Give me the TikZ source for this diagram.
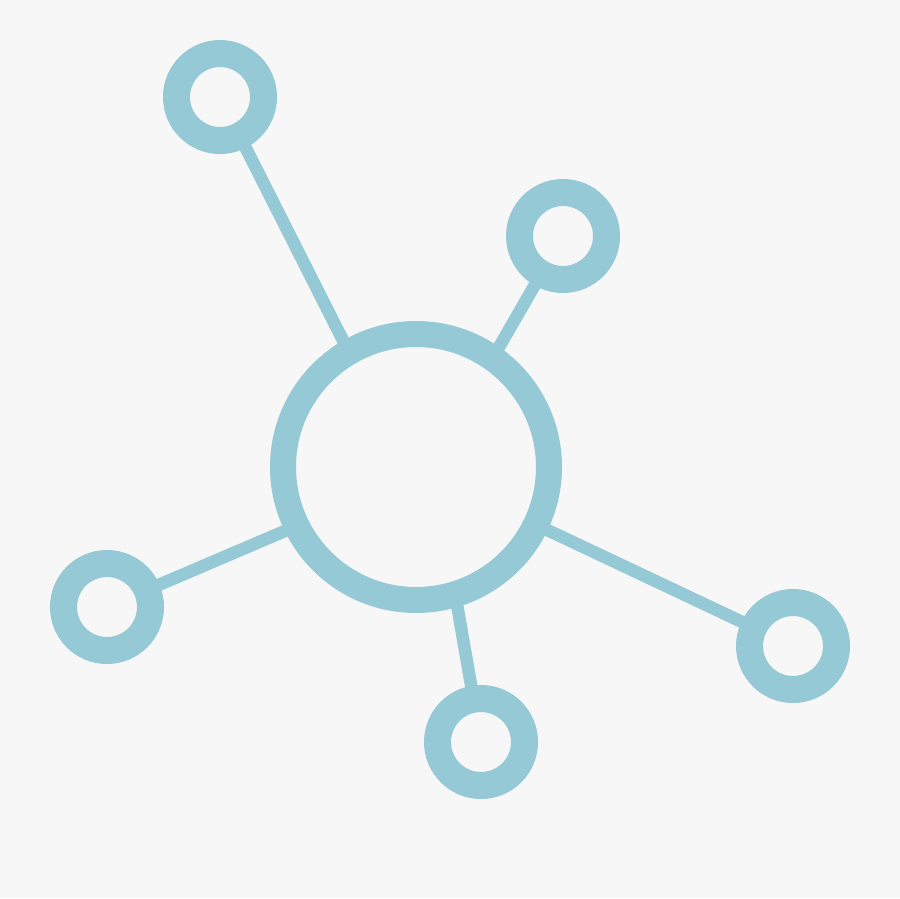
\documentclass[tikz,border=0pt]{standalone}
\usetikzlibrary{backgrounds}
\definecolor{bg}{RGB}{247,247,247}
\definecolor{hub}{RGB}{148,201,213}
\begin{document}
\begin{tikzpicture}[x=1pt,y=-1pt,
  ring/.style={circle,draw=hub,fill=bg,inner sep=0pt,line width=27pt,minimum size=87pt},
  bigring/.style={circle,draw=hub,fill=bg,inner sep=0pt,line width=26pt,minimum size=266pt},
  link/.style={draw=hub,line width=12.5pt}]
\useasboundingbox (0,0) rectangle (900,898);
\node[bigring] (c) at (416,467) {};
\node[ring] (tl) at (220,97) {};
\node[ring] (tr) at (563,236) {};
\node[ring] (l) at (107,607) {};
\node[ring] (b) at (481,742) {};
\node[ring] (r) at (793,646) {};
\coordinate (ctl) at (407,467);
\coordinate (ctr) at (430,467);
\coordinate (cl) at (416,475);
\coordinate (cb) at (433,467);
\coordinate (cr) at (416,468);
\begin{pgfonlayer}{background}
\fill[bg] (0,0) rectangle (900,898);
\draw[link] (ctl) -- (tl.center);
\draw[link] (ctr) -- (tr.center);
\draw[link] (cl) -- (l.center);
\draw[link] (cb) -- (b.center);
\draw[link] (cr) -- (r.center);
\end{pgfonlayer}
\end{tikzpicture}
\end{document}
